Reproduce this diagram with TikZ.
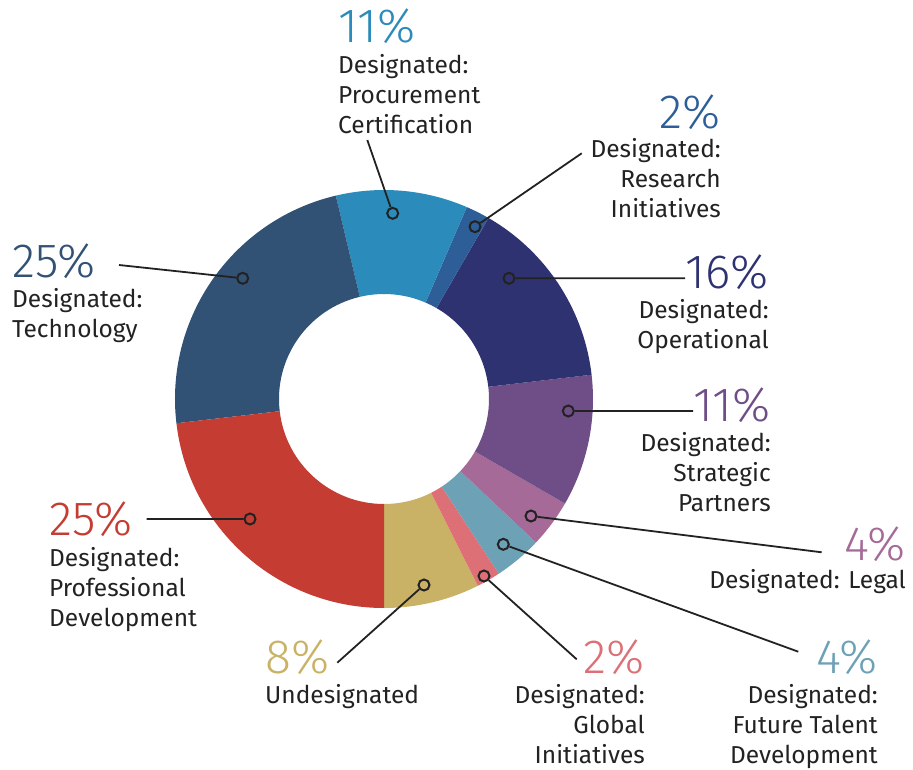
\documentclass[tikz,border=0pt]{standalone}
\usepackage{fontspec}
\setmainfont{Fira Sans}
\newfontfamily\pctfont{Fira Sans Light}
\usepackage{tikz}
\usetikzlibrary{positioning}

\definecolor{techblue}{HTML}{315175}
\definecolor{procblue}{HTML}{2B8BBB}
\definecolor{resblue}{HTML}{2D5E98}
\definecolor{opnavy}{HTML}{2E3270}
\definecolor{stratpurple}{HTML}{6F4E88}
\definecolor{legalmauve}{HTML}{A56A98}
\definecolor{futureteal}{HTML}{6DA1B5}
\definecolor{globalpink}{HTML}{DD7076}
\definecolor{undesgold}{HTML}{C9B266}
\definecolor{profred}{HTML}{C43C32}
\definecolor{labelgray}{HTML}{222222}

\tikzset{
	pct/.style={font=\pctfont\fontsize{48}{48}\selectfont, inner sep=0pt},
	lbl/.style={font=\fontsize{24.5}{30}\selectfont, text=labelgray, inner sep=0pt},
	dot/.style={circle, draw=labelgray, line width=2pt, minimum size=11pt, inner sep=0pt},
	lead/.style={draw=labelgray, line width=1.8pt},
}

\begin{document}
\begin{tikzpicture}[x=1pt,y=1pt]
		\useasboundingbox (0,0) rectangle (913,-770);
		% donut
		\begin{scope}[shift={(384,-399)}]
		\fill[undesgold] (-90:209pt) arc[start angle=-90, end angle=-63.33, radius=209pt] -- (-63.33:105pt) arc[start angle=-63.33, end angle=-90, radius=105pt] -- cycle;
		\fill[globalpink] (-63.33:209pt) arc[start angle=-63.33, end angle=-56.67, radius=209pt] -- (-56.67:105pt) arc[start angle=-56.67, end angle=-63.33, radius=105pt] -- cycle;
		\fill[futureteal] (-56.67:209pt) arc[start angle=-56.67, end angle=-43.33, radius=209pt] -- (-43.33:105pt) arc[start angle=-43.33, end angle=-56.67, radius=105pt] -- cycle;
		\fill[legalmauve] (-43.33:209pt) arc[start angle=-43.33, end angle=-30, radius=209pt] -- (-30:105pt) arc[start angle=-30, end angle=-43.33, radius=105pt] -- cycle;
		\fill[stratpurple] (-30:209pt) arc[start angle=-30, end angle=6.67, radius=209pt] -- (6.67:105pt) arc[start angle=6.67, end angle=-30, radius=105pt] -- cycle;
		\fill[opnavy] (6.67:209pt) arc[start angle=6.67, end angle=60, radius=209pt] -- (60:105pt) arc[start angle=60, end angle=6.67, radius=105pt] -- cycle;
		\fill[resblue] (60:209pt) arc[start angle=60, end angle=66.67, radius=209pt] -- (66.67:105pt) arc[start angle=66.67, end angle=60, radius=105pt] -- cycle;
		\fill[procblue] (66.67:209pt) arc[start angle=66.67, end angle=103.33, radius=209pt] -- (103.33:105pt) arc[start angle=103.33, end angle=66.67, radius=105pt] -- cycle;
		\fill[techblue] (103.33:209pt) arc[start angle=103.33, end angle=186.67, radius=209pt] -- (186.67:105pt) arc[start angle=186.67, end angle=103.33, radius=105pt] -- cycle;
		\fill[profred] (186.67:209pt) arc[start angle=186.67, end angle=270, radius=209pt] -- (270:105pt) arc[start angle=270, end angle=186.67, radius=105pt] -- cycle;
		\end{scope}
		%
		% percentages
		\node[pct, text=procblue, anchor=base west] (proc-pct) at (338,-43) {11\%};
		\node[pct, text=resblue, anchor=base east] (res-pct) at (721,-129) {2\%};
		\node[pct, text=opnavy, anchor=base east] (op-pct) at (769,-288) {16\%};
		\node[pct, text=stratpurple, anchor=base east] (strat-pct) at (771,-421) {11\%};
		\node[pct, text=legalmauve, anchor=base east] (legal-pct) at (906,-560) {4\%};
		\node[pct, text=futureteal, anchor=base east] (future-pct) at (878,-673) {4\%};
		\node[pct, text=globalpink, anchor=base east] (global-pct) at (645,-673) {2\%};
		\node[pct, text=undesgold, anchor=base west] (undes-pct) at (265,-673) {8\%};
		\node[pct, text=profred, anchor=base west] (prof-pct) at (49,-535) {25\%};
		\node[pct, text=techblue, anchor=base west] (tech-pct) at (12,-277) {25\%};
		%
		% labels (base = last line)
		\node[lbl, align=left, anchor=base west] (proc-txt) at ([yshift=-91pt]proc-pct.base west) {Designated:\\Procurement\\Certification};
		\node[lbl, align=right, anchor=base east] (res-txt) at ([yshift=-89pt]res-pct.base east) {Designated:\\Research\\Initiatives};
		\node[lbl, align=right, anchor=base east] (op-txt) at ([yshift=-60pt]op-pct.base east) {Designated:\\Operational};
		\node[lbl, align=right, anchor=base east] (strat-txt) at ([yshift=-90pt]strat-pct.base east) {Designated:\\Strategic\\Partners};
		\node[lbl, align=right, anchor=base east] (legal-txt) at ([yshift=-28pt]legal-pct.base east) {Designated: Legal};
		\node[lbl, align=right, anchor=base east] (future-txt) at ([yshift=-90pt]future-pct.base east) {Designated:\\Future Talent\\Development};
		\node[lbl, align=right, anchor=base east] (global-txt) at ([yshift=-90pt]global-pct.base east) {Designated:\\Global\\Initiatives};
		\node[lbl, align=left, anchor=base west] (undes-txt) at ([yshift=-30pt]undes-pct.base west) {Undesignated};
		\node[lbl, align=left, anchor=base west] (prof-txt) at ([yshift=-91pt]prof-pct.base west) {Designated:\\Professional\\Development};
		\node[lbl, align=left, anchor=base west] (tech-txt) at ([yshift=-60pt]tech-pct.base west) {Designated:\\Technology};
		%
		% markers
		\node[dot] (proc-dot) at (392.7,-213.3) {};
		\node[dot] (res-dot) at (475,-226.7) {};
		\node[dot] (op-dot) at (509,-278.3) {};
		\node[dot] (strat-dot) at (568.3,-411) {};
		\node[dot] (legal-dot) at (531,-516) {};
		\node[dot] (future-dot) at (503.3,-544.3) {};
		\node[dot] (global-dot) at (484,-576) {};
		\node[dot] (undes-dot) at (424,-585) {};
		\node[dot] (prof-dot) at (250,-519) {};
		\node[dot] (tech-dot) at (242.7,-278.3) {};
		%
		% leader ends
		\coordinate (proc-end) at (367.3,-140);
		\coordinate (res-end) at (581.7,-153.3);
		\coordinate (op-end) at (685,-278.3);
		\coordinate (strat-end) at (693,-411);
		\coordinate (legal-end) at (821.7,-552.3);
		\coordinate (future-end) at (798.3,-651.7);
		\coordinate (global-end) at (576.7,-659.3);
		\coordinate (undes-end) at (337.3,-662.7);
		\coordinate (prof-end) at (146.7,-519);
		\coordinate (tech-end) at (119,-265);
		%
		\path[lead]
		(proc-dot) -- (proc-end)
		(res-dot) -- (res-end)
		(op-dot) -- (op-end)
		(strat-dot) -- (strat-end)
		(legal-dot) -- (legal-end)
		(future-dot) -- (future-end)
		(global-dot) -- (global-end)
		(undes-dot) -- (undes-end)
		(prof-dot) -- (prof-end)
		(tech-dot) -- (tech-end);
\end{tikzpicture}
\end{document}
